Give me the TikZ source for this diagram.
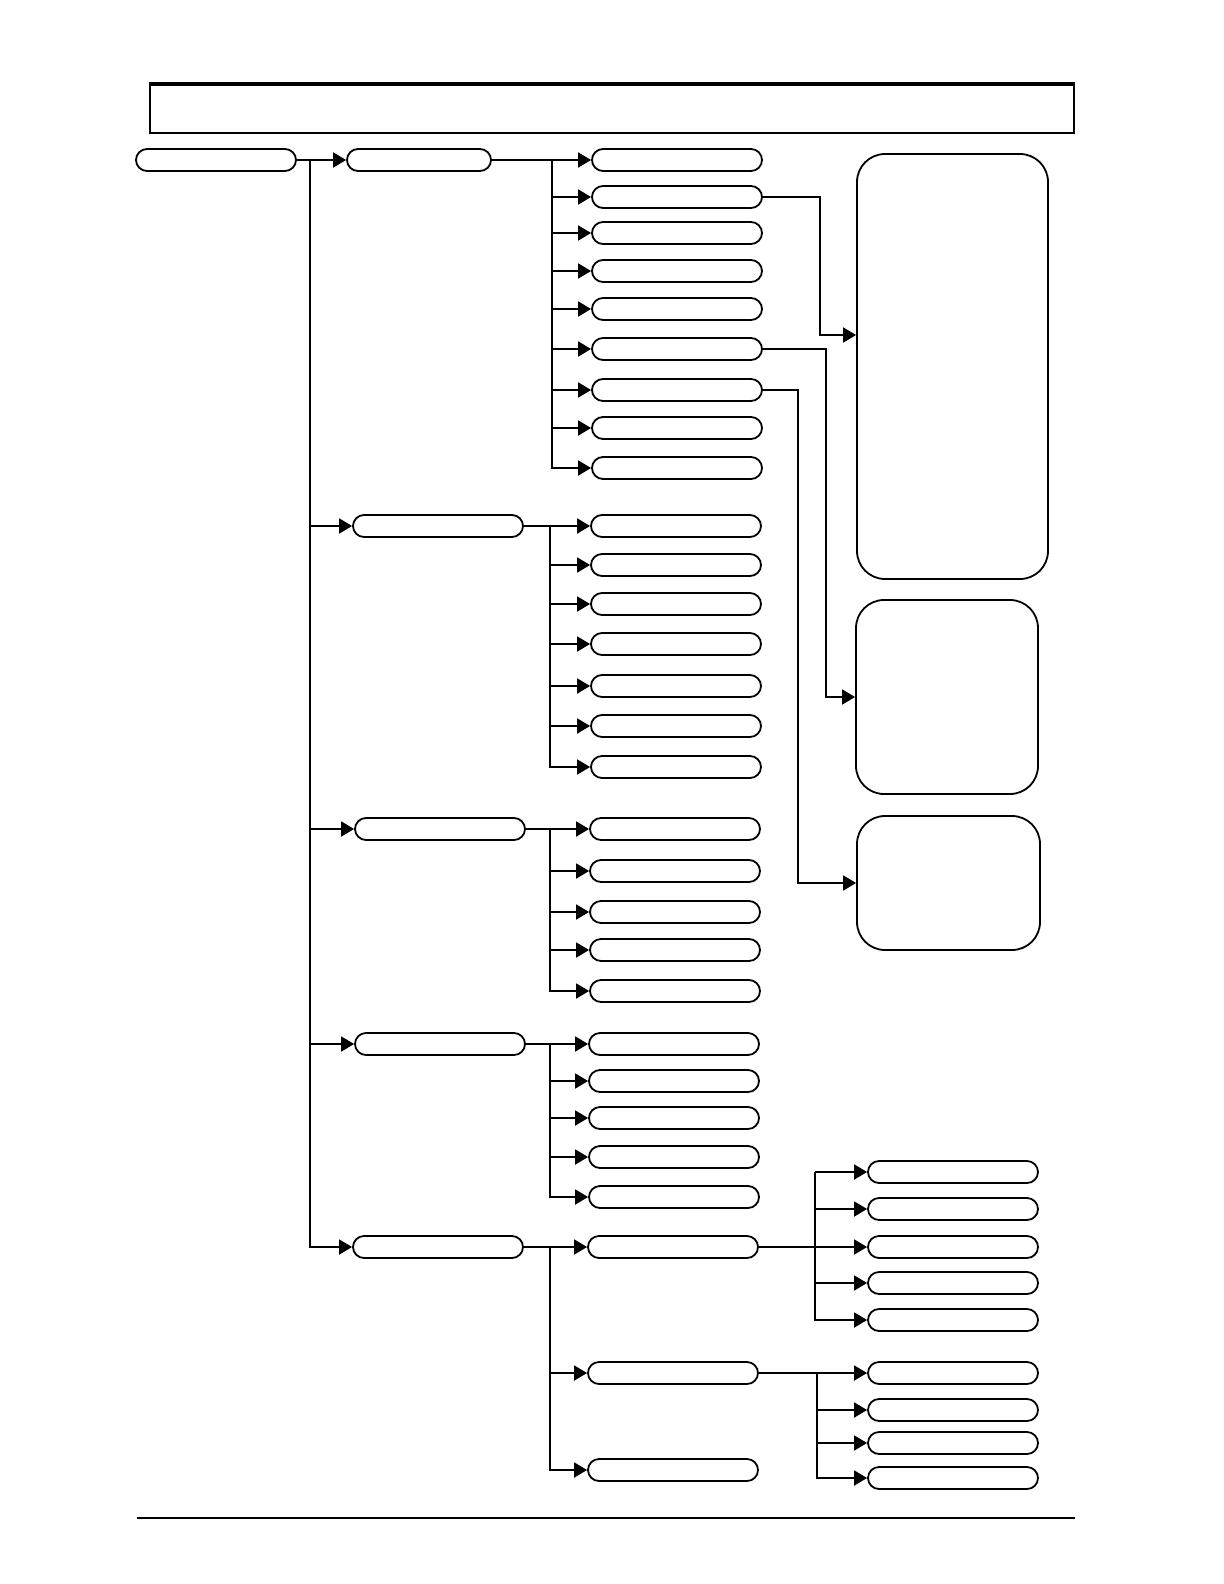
\documentclass[tikz,border=0pt]{standalone}
\usetikzlibrary{arrows.meta}
\begin{document}
\begin{tikzpicture}[x=0.5pt,y=-0.5pt,
  line width=0.9pt,
  pill/.style={draw, line width=0.9pt, rounded corners=5.5pt, minimum width=85pt, minimum height=11pt, inner sep=0pt},
  rbox/.style={draw, line width=0.9pt, rounded corners=14pt, inner sep=0pt},
  arr/.style={-{Triangle[length=6.5pt,width=7.5pt]}}]
\useasboundingbox (0,0) rectangle (1224,1584);
% header
\node[draw, line width=0.9pt, minimum width=462pt, minimum height=24pt, inner sep=0pt] (head) at (612,109) {};
\draw[line width=1.8pt] (head.north west) -- (head.north east);
% root and level 1
\node[pill, minimum width=80pt] (root) at (216,160) {};
\node[pill, minimum width=72pt] (La) at (419,160) {};
\node[pill] (Lb) at (438,526) {};
\node[pill] (Lc) at (440,829) {};
\node[pill] (Ld) at (440,1044) {};
\node[pill] (Le) at (438,1247) {};
% group 1
\foreach \i/\y in {1/160,2/197,3/233,4/271,5/309,6/349,7/390,8/428,9/468}
  \node[pill] (A\i) at (677,\y) {};
% group 2
\foreach \i/\y in {1/526,2/565,3/604,4/644,5/686,6/726,7/767}
  \node[pill] (B\i) at (676,\y) {};
% group 3
\foreach \i/\y in {1/829,2/871,3/912,4/950,5/991}
  \node[pill] (C\i) at (675,\y) {};
% group 4
\foreach \i/\y in {1/1044,2/1081,3/1118,4/1157,5/1197}
  \node[pill] (D\i) at (674,\y) {};
% group 5
\foreach \i/\y in {1/1247,2/1373,3/1470}
  \node[pill] (E\i) at (673,\y) {};
% level 3
\foreach \i/\y in {1/1172,2/1209,3/1247,4/1283,5/1320}
  \node[pill] (F\i) at (953,\y) {};
\foreach \i/\y in {1/1373,2/1410,3/1443,4/1478}
  \node[pill] (G\i) at (953,\y) {};
% right boxes
\node[rbox, minimum width=95.5pt, minimum height=212.5pt] (boxA) at (952.5,366.5) {};
\node[rbox, minimum width=91pt, minimum height=97pt] (boxB) at (947,697) {};
\node[rbox, minimum width=91.5pt, minimum height=67pt] (boxC) at (948.5,883) {};
% trunk
\coordinate (t0) at (310,160);
\coordinate (t1) at (310,1247);
\draw[arr] (root.east) -- (La.west);
\draw (t0) -- (t1);
\foreach \n in {Lb,Lc,Ld,Le}
  \draw[arr] (t0) |- (\n.west);
% group connectors
\coordinate (v1) at (552,160);
\coordinate (v2) at (550,526);
\coordinate (v3) at (550,829);
\coordinate (v4) at (550,1044);
\coordinate (v5) at (550,1247);
\draw[arr] (La.east) -- (A1.west);
\foreach \i in {2,...,9} \draw[arr] (v1) |- (A\i.west);
\draw[arr] (Lb.east) -- (B1.west);
\foreach \i in {2,...,7} \draw[arr] (v2) |- (B\i.west);
\draw[arr] (Lc.east) -- (C1.west);
\foreach \i in {2,...,5} \draw[arr] (v3) |- (C\i.west);
\draw[arr] (Ld.east) -- (D1.west);
\foreach \i in {2,...,5} \draw[arr] (v4) |- (D\i.west);
\draw[arr] (Le.east) -- (E1.west);
\foreach \i in {2,3} \draw[arr] (v5) |- (E\i.west);
% level 3 connectors
\coordinate (wa) at (815,1172);
\coordinate (wa2) at (815,1320);
\draw (wa) -- (wa2);
\draw[arr] (E1.east) -- (F3.west);
\foreach \i in {1,2,4,5} \draw[arr] (wa) |- (F\i.west);
\coordinate (wb) at (817,1373);
\draw[arr] (E2.east) -- (G1.west);
\foreach \i in {2,3,4} \draw[arr] (wb) |- (G\i.west);
% box connectors
\coordinate (ea) at (boxA.west |- 0,335);
\draw[arr] (A2.east) -- (820,197) |- (ea);
\draw[arr] (A6.east) -- (826,349) |- (boxB.west);
\draw[arr] (A7.east) -- (798,390) |- (boxC.west);
% bottom rule
\coordinate (r0) at (137,1518);
\coordinate (r1) at (1075,1518);
\draw[line width=1.2pt] (r0) -- (r1);
\end{tikzpicture}
\end{document}
